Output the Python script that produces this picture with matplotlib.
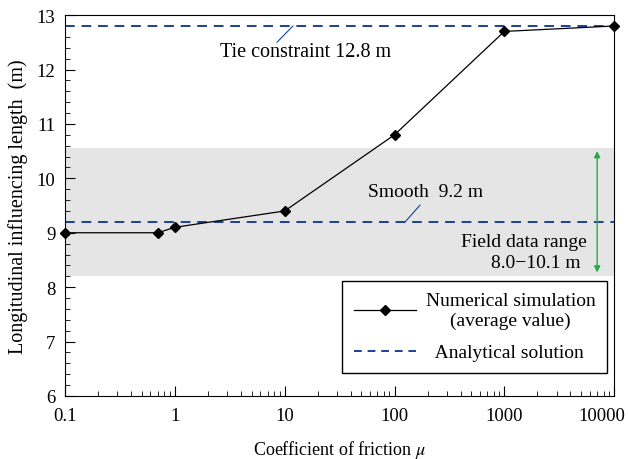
import matplotlib.pyplot as plt
import matplotlib.transforms as mtransforms
from matplotlib.lines import Line2D
from matplotlib.ticker import FixedLocator, MultipleLocator, LogLocator, NullFormatter

plt.rcParams['font.family'] = ['Liberation Serif', 'DejaVu Serif']
plt.rcParams['mathtext.fontset'] = 'stix'

# data
mu = [0.1, 0.7, 1, 10, 100, 1000, 10000]
length = [9.0, 9.0, 9.1, 9.4, 10.8, 12.7, 12.8]
tie_value = 12.8
smooth_value = 9.2
band_low, band_high = 8.2, 10.55
arrow_low, arrow_high = 8.27, 10.5
xticks = [0.1, 1, 10, 100, 1000, 10000]
xticklabels = ['0.1', '1', '10', '100', '1000', '10000']

blue = '#1b3f9a'
green = '#22aa44'
dash = (0, (5, 3.5))

fig = plt.figure(figsize=(6.28, 4.6), dpi=100)
ax = fig.add_axes([0.1035, 0.137, 0.8745, 0.828])

ax.axhspan(band_low, band_high, color='#e5e5e5', lw=0, zorder=0)
ax.axhline(tie_value, color=blue, ls=dash, lw=1.4, zorder=2)
ax.axhline(smooth_value, color=blue, ls=dash, lw=1.4, zorder=2)
ax.plot(mu, length, color='black', lw=0.9, marker='D', ms=5.5, zorder=3,
        clip_on=False)

ax.annotate('', xy=(7000, arrow_high), xytext=(7000, arrow_low),
            arrowprops=dict(arrowstyle='<|-|>', color=green, lw=1.0,
                            mutation_scale=9, shrinkA=0, shrinkB=0))

fs = 14
# labels and their leader lines
ax.text(15.4, 12.34, 'Tie constraint 12.8 m', fontsize=14.5, ha='center', va='center')
ax.annotate('', xy=(11.9, tie_value), xytext=(8.5, 12.5),
            arrowprops=dict(arrowstyle='-', color=blue, lw=0.8, shrinkA=0, shrinkB=0))
ax.text(190, 9.76, 'Smooth  9.2 m', fontsize=fs, ha='center', va='center')
ax.annotate('', xy=(125, smooth_value), xytext=(171, 9.51),
            arrowprops=dict(arrowstyle='-', color=blue, lw=0.8, shrinkA=0, shrinkB=0))
ax.text(5680, 8.83, 'Field data range', fontsize=fs, ha='right', va='center')
ax.text(4900, 8.46, '8.0\u221210.1 m', fontsize=fs, ha='right', va='center')

ax.set_xscale('log')
ax.set_xlim(0.1, 10000)
ax.set_ylim(6, 13)
ax.xaxis.set_major_locator(FixedLocator(xticks))
ax.set_xticklabels(xticklabels)
ax.xaxis.set_minor_locator(LogLocator(base=10, subs=range(2, 10)))
ax.xaxis.set_minor_formatter(NullFormatter())
ax.yaxis.set_major_locator(MultipleLocator(1))
ax.yaxis.set_minor_locator(MultipleLocator(0.2))
ax.tick_params(which='both', direction='in', labelsize=13.5, top=False, right=False)
ax.tick_params(which='major', length=7)
ax.tick_params(which='minor', length=3.5)
ax.tick_params(axis='x', pad=8)
ax.tick_params(axis='y', pad=7)

# last x label sits left of its tick in the reference
last = ax.get_xticklabels()[-1]
last.set_transform(last.get_transform() +
                   mtransforms.ScaledTranslation(-0.12, 0, fig.dpi_scale_trans))

ax.set_xlabel('Coefficient of friction $\\mu$', fontsize=13, labelpad=10)
ax.set_ylabel('Longitudinal influencing length  (m)', fontsize=14.5, labelpad=6)

handles = [Line2D([], [], color='black', lw=0.9, marker='D', ms=5.5),
           Line2D([], [], color=blue, ls=(0, (4, 3)), lw=1.4)]
labels = ['Numerical simulation\n(average value)', '  Analytical solution']
leg = ax.legend(handles, labels, loc='lower right', bbox_to_anchor=(0.987, 0.06),
                fontsize=fs, numpoints=1, handlelength=3.2, handletextpad=0.5,
                frameon=True, fancybox=False, edgecolor='black', framealpha=1,
                borderpad=0.6, labelspacing=0.75, borderaxespad=0)
leg.get_frame().set_linewidth(1.0)
for t in leg.get_texts():
    t.set_multialignment('center')

fig.savefig('out.png', dpi=100)
